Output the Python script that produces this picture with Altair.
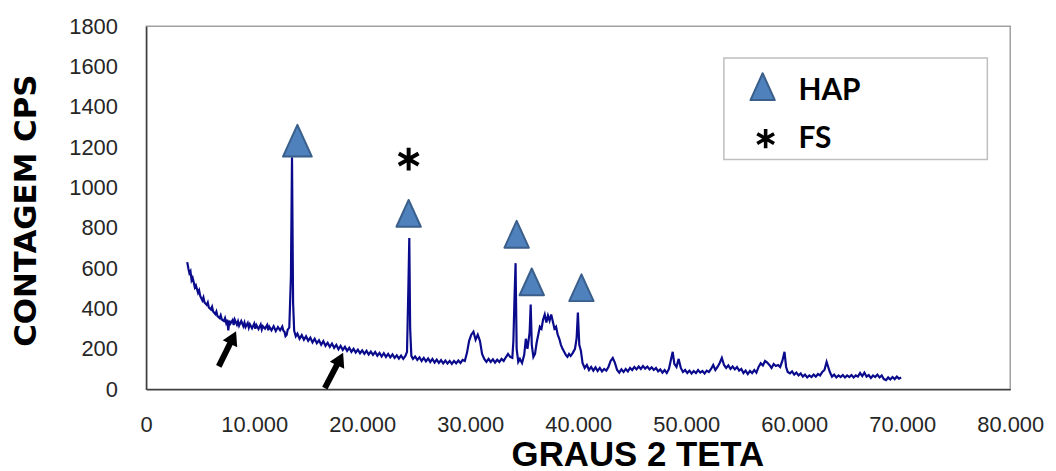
import altair as alt
import pandas as pd

# ---- diffractogram: (2θ in degrees, counts cps) ----
seg_amorphous_low = [
    (3.8, 630), (3.9, 600), (4.0, 575), (4.1, 585), (4.2, 540), (4.3, 552), (4.4, 530),
    (4.5, 505), (4.6, 515), (4.8, 478), (4.9, 490), (5.0, 462), (5.2, 440), (5.3, 455),
    (5.4, 430), (5.6, 418), (5.7, 430), (5.8, 405), (6.0, 395), (6.1, 408), (6.2, 385),
    (6.4, 372), (6.5, 385), (6.6, 362), (6.8, 352), (6.9, 366), (7.0, 345), (7.2, 338),
    (7.3, 352), (7.4, 330), (7.5, 345), (7.6, 292), (7.7, 340), (7.8, 325), (8.0, 342),
    (8.1, 318), (8.2, 345), (8.4, 320), (8.5, 336), (8.6, 315), (8.8, 338), (9.0, 312),
    (9.1, 330), (9.2, 308), (9.4, 328), (9.5, 305), (9.6, 322), (9.8, 302), (10.0, 325),
    (10.1, 300), (10.2, 318), (10.4, 298), (10.6, 320), (10.7, 296), (10.8, 312), (11.0, 300),
    (11.2, 318), (11.3, 292), (11.4, 310), (11.6, 292), (11.8, 312), (12.0, 288), (12.2, 308),
    (12.4, 292), (12.6, 310), (12.7, 290), (12.8, 285), (12.9, 262), (13.0, 268), (13.1, 295),
    (13.25, 305),
]
seg_peak_1 = [(13.4, 560), (13.5, 1150), (13.6, 430), (13.7, 290)]
seg_amorphous_mid = [
    (13.85, 262), (14.0, 275), (14.2, 250), (14.4, 268), (14.6, 245), (14.8, 262), (15.0, 240),
    (15.2, 255), (15.4, 232), (15.6, 250), (15.8, 228), (16.0, 242), (16.2, 220), (16.4, 238),
    (16.6, 215), (16.8, 230), (17.0, 210), (17.2, 226), (17.4, 205), (17.6, 220), (17.8, 198),
    (18.0, 215), (18.2, 195), (18.4, 210), (18.6, 190), (18.8, 205), (19.0, 185), (19.2, 200),
    (19.4, 182), (19.6, 196), (19.8, 178), (20.0, 192), (20.2, 175), (20.4, 190), (20.6, 172),
    (20.8, 186), (21.0, 170), (21.2, 184), (21.4, 166), (21.6, 180), (21.8, 162), (22.0, 178),
    (22.2, 160), (22.4, 175), (22.6, 158), (22.8, 172), (23.0, 155), (23.2, 168), (23.4, 152),
    (23.6, 166), (23.8, 150), (24.0, 165), (24.15, 185),
]
seg_peak_2 = [(24.28, 520), (24.36, 750), (24.44, 300), (24.55, 165)]
seg_before_hap = [
    (24.7, 150), (24.9, 162), (25.1, 145), (25.3, 158), (25.5, 140), (25.7, 155), (25.9, 138),
    (26.1, 152), (26.3, 135), (26.5, 150), (26.7, 132), (26.9, 146), (27.1, 130), (27.3, 144),
    (27.5, 128), (27.7, 142), (27.9, 127), (28.1, 140), (28.3, 125), (28.5, 140), (28.7, 128),
    (28.9, 142), (29.1, 130), (29.3, 145), (29.5, 140), (29.7, 180), (29.9, 240), (30.1, 270),
    (30.3, 285), (30.5, 245), (30.7, 270), (30.9, 240), (31.1, 175), (31.3, 150), (31.5, 135),
    (31.7, 150), (31.9, 135), (32.1, 148), (32.3, 132), (32.5, 146), (32.7, 135), (32.9, 150),
    (33.1, 140), (33.3, 158), (33.5, 175), (33.7, 160), (33.9, 155), (34.0, 240), (34.1, 450),
]
seg_hap_group = [
    (34.2, 625), (34.3, 200), (34.45, 135), (34.6, 150), (34.8, 130), (35.0, 170), (35.15, 250),
    (35.3, 200), (35.5, 280), (35.6, 420), (35.7, 220), (35.85, 160), (36.0, 175), (36.15, 230),
    (36.3, 270), (36.45, 310), (36.6, 300), (36.75, 345), (36.9, 370), (37.05, 330), (37.2, 365),
    (37.35, 340), (37.5, 370), (37.65, 335), (37.8, 300), (37.95, 310), (38.1, 270), (38.25, 250),
    (38.4, 220), (38.55, 200), (38.7, 185), (38.85, 170), (39.0, 160), (39.15, 175), (39.3, 165),
    (39.5, 180), (39.7, 200), (39.85, 250), (39.97, 380), (40.1, 220), (40.25, 190), (40.4, 130),
]
seg_tail = [
    (40.6, 105), (40.8, 120), (41.0, 95), (41.2, 110), (41.4, 92), (41.6, 108), (41.8, 90),
    (42.0, 105), (42.2, 88), (42.4, 100), (42.6, 92), (42.8, 110), (43.0, 140), (43.2, 155),
    (43.4, 130), (43.6, 95), (43.8, 82), (44.0, 98), (44.2, 85), (44.4, 100), (44.6, 88),
    (44.8, 105), (45.0, 95), (45.2, 110), (45.4, 98), (45.6, 112), (45.8, 100), (46.0, 115),
    (46.2, 102), (46.4, 112), (46.6, 98), (46.8, 108), (47.0, 95), (47.2, 105), (47.4, 88),
    (47.6, 98), (47.8, 82), (48.0, 95), (48.2, 80), (48.4, 100), (48.6, 150), (48.75, 185),
    (48.9, 125), (49.1, 110), (49.3, 150), (49.5, 105), (49.7, 85), (49.9, 95), (50.1, 80),
    (50.3, 92), (50.5, 78), (50.7, 90), (50.9, 80), (51.1, 95), (51.3, 82), (51.5, 90),
    (51.7, 78), (51.9, 92), (52.1, 85), (52.3, 100), (52.5, 120), (52.7, 95), (52.9, 110),
    (53.1, 130), (53.3, 155), (53.5, 120), (53.7, 105), (53.9, 118), (54.1, 100), (54.3, 112),
    (54.5, 98), (54.7, 110), (54.9, 92), (55.1, 100), (55.3, 80), (55.5, 92), (55.7, 75),
    (55.9, 90), (56.1, 80), (56.3, 95), (56.5, 82), (56.7, 110), (56.9, 128), (57.1, 118),
    (57.3, 140), (57.5, 132), (57.7, 120), (57.9, 105), (58.1, 125), (58.3, 115), (58.5, 120),
    (58.7, 110), (58.9, 140), (59.1, 185), (59.25, 110), (59.4, 85), (59.6, 78), (59.8, 88),
    (60.0, 72), (60.2, 82), (60.4, 68), (60.6, 78), (60.8, 62), (61.0, 72), (61.2, 58),
    (61.4, 68), (61.6, 60), (61.8, 72), (62.0, 62), (62.2, 75), (62.4, 68), (62.6, 85),
    (62.8, 95), (63.0, 135), (63.15, 110), (63.3, 85), (63.5, 62), (63.7, 72), (63.9, 58),
    (64.1, 68), (64.3, 60), (64.5, 70), (64.7, 58), (64.9, 68), (65.1, 60), (65.3, 70),
    (65.5, 58), (65.7, 68), (65.9, 62), (66.1, 80), (66.3, 65), (66.5, 82), (66.7, 62),
    (66.9, 70), (67.1, 55), (67.3, 68), (67.5, 60), (67.7, 72), (67.9, 58), (68.1, 68),
    (68.3, 50), (68.5, 45), (68.7, 58), (68.9, 48), (69.1, 60), (69.3, 50), (69.5, 62),
    (69.7, 52), (69.9, 58),
]

# peak markers (HAP = hydroxyapatite triangles, FS = asterisk)
hap_main_x, hap_main_y = [14.0], [1225]
hap_x = [24.3, 34.3, 35.7, 40.3]
hap_y = [866, 762, 526, 497]
fs_x, fs_y = [24.3], [1141]

# arrows pointing at amorphous features
arrow_tail_x = [6.72, 16.54]
arrow_tail_y = [113, 5]
arrow_head_x = [8.04, 17.95]
arrow_head_y = [256, 150]

x_ticks = [0, 10, 20, 30, 40, 50, 60, 70, 80]
y_ticks = [0, 200, 400, 600, 800, 1000, 1200, 1400, 1600, 1800]
legend_labels = ["HAP", "FS"]
x_title = "GRAUS 2 TETA"
y_title = "CONTAGEM CPS"

scan = (seg_amorphous_low + seg_peak_1 + seg_amorphous_mid + seg_peak_2
        + seg_before_hap + seg_hap_group + seg_tail)
df = pd.DataFrame(scan, columns=["theta2", "cps"])

TRI = "M0,-1.2L-1,1L1,1Z"
AST = "M0,-1L0,1M-0.87,-0.5L0.87,0.5M-0.87,0.5L0.87,-0.5"
TRI_FILL = "#4F81BD"
TRI_STROKE = "#3A5F8B"

x_enc = alt.X(
    "theta2:Q",
    scale=alt.Scale(domain=[0, 80], nice=False, zero=False),
    axis=alt.Axis(
        values=x_ticks,
        labelExpr="datum.value == 0 ? '0' : format(datum.value, '.3f')",
        title=x_title, titleFont="Liberation Sans", titleFontSize=35,
        titleFontWeight="bold", titleColor="black",
        titleX=494, titleY=77, titleAlign="center", titleBaseline="alphabetic",
        labelPadding=26, ticks=False, tickSize=0,
        labelFlush=False, labelOverlap=False, labelBound=False,
    ),
)
y_enc = alt.Y(
    "cps:Q",
    scale=alt.Scale(domain=[0, 1800], nice=False),
    axis=alt.Axis(
        values=y_ticks, format="d",
        title=y_title, titleFont="DejaVu Sans", titleFontSize=31,
        titleFontWeight="bold", titleColor="black",
        titleAngle=270, titleX=-120, titleY=185,
        titleAlign="center", titleBaseline="middle",
        labelPadding=29, ticks=False, tickSize=0,
        labelFlush=False, labelOverlap=False,
    ),
)

line = alt.Chart(df).mark_line(color="#0A0A8C", strokeWidth=2.2, clip=True).encode(
    x=x_enc, y=y_enc
)

hap_main = alt.Chart(pd.DataFrame({"theta2": hap_main_x, "cps": hap_main_y})).mark_point(
    shape=TRI, size=841, filled=True, fill=TRI_FILL, stroke=TRI_STROKE,
    strokeWidth=2, strokeJoin="round", opacity=1, fillOpacity=1,
).encode(x="theta2:Q", y="cps:Q")

hap = alt.Chart(pd.DataFrame({"theta2": hap_x, "cps": hap_y})).mark_point(
    shape=TRI, size=600, filled=True, fill=TRI_FILL, stroke=TRI_STROKE,
    strokeWidth=2, strokeJoin="round", opacity=1, fillOpacity=1,
).encode(x="theta2:Q", y="cps:Q")

fs = alt.Chart(pd.DataFrame({"theta2": fs_x, "cps": fs_y})).mark_point(
    shape=AST, size=520, filled=False, stroke="black", strokeWidth=4, opacity=1,
).encode(x="theta2:Q", y="cps:Q")

arrows_df = pd.DataFrame({
    "theta2": arrow_tail_x, "cps": arrow_tail_y,
    "theta2_end": arrow_head_x, "cps_end": arrow_head_y,
})
arrow_shafts = alt.Chart(arrows_df).mark_rule(color="black", strokeWidth=6, clip=False).encode(
    x="theta2:Q", y="cps:Q", x2="theta2_end:Q", y2="cps_end:Q"
)
arrow_heads = alt.Chart(pd.DataFrame({"theta2": arrow_head_x, "cps": arrow_head_y})).mark_point(
    shape="triangle-up", size=260, filled=True, color="black", angle=26, opacity=1,
).encode(x="theta2:Q", y="cps:Q")

# ---- legend box (drawn by hand, as in the original) ----
one = pd.DataFrame({"k": [0]})
legend_box = alt.Chart(one).mark_rect(
    fill="white", stroke="#BFBFBF", strokeWidth=1.5
).encode(x=alt.value(581), x2=alt.value(846), y=alt.value(32), y2=alt.value(134))

legend_tri = alt.Chart(one).mark_point(
    shape=TRI, size=600, filled=True, fill=TRI_FILL, stroke=TRI_STROKE,
    strokeWidth=2, strokeJoin="round", opacity=1,
).encode(x=alt.value(620), y=alt.value(62))

legend_ast = alt.Chart(one).mark_point(
    shape=AST, size=380, filled=False, stroke="black", strokeWidth=3.6, opacity=1,
).encode(x=alt.value(623), y=alt.value(113))

legend_hap = alt.Chart(pd.DataFrame({"label": [legend_labels[0]]})).mark_text(
    font="Lato", fontSize=30, fontWeight="bold", color="black",
    align="left", baseline="alphabetic",
).encode(text="label:N", x=alt.value(656), y=alt.value(74))

legend_fs = alt.Chart(pd.DataFrame({"label": [legend_labels[1]]})).mark_text(
    font="Lato", fontSize=30, fontWeight="bold", color="black",
    align="left", baseline="alphabetic",
).encode(text="label:N", x=alt.value(656), y=alt.value(122))

chart = alt.layer(
    line, arrow_shafts, arrow_heads, hap_main, hap, fs,
    legend_box, legend_tri, legend_ast, legend_hap, legend_fs,
).properties(
    width=869, height=365,
    autosize=alt.AutoSizeParams(type="none"),
    padding={"left": 139, "top": 17, "right": 38, "bottom": 85},
    background="white",
).configure_view(
    stroke="#A0A0A0", strokeWidth=1.5
).configure_axis(
    grid=False, domainColor="#404040", domainWidth=1.5,
    labelFont="Liberation Sans", labelFontSize=22, labelColor="#262626",
)

chart.save("out.html", embed_options={"renderer": "svg", "actions": False})
